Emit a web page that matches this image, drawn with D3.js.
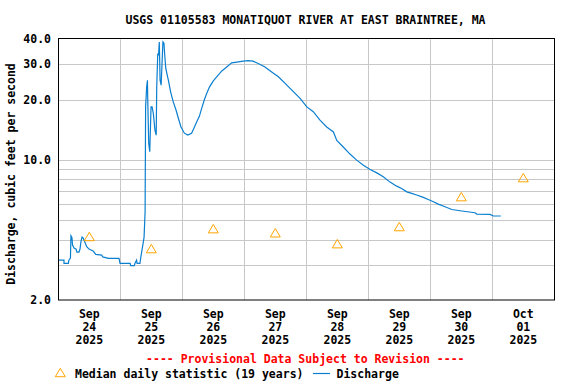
<!DOCTYPE html>
<html><head><meta charset="utf-8">
<script src="https://cdn.jsdelivr.net/npm/d3@7"></script>
<style>body{margin:0;background:#fff}svg{display:block}text{font-family:"DejaVu Sans Mono",monospace;font-weight:bold;font-size:11.5px}</style>
</head><body><svg id="c" width="576" height="384"></svg>
<script>
// Hours since 2025-09-24 00:00 and discharge (cfs)
const dischargeHours = [0,2.2,2.2,3.9,4.1,4.7,4.9,5.3,5.5,6.1,6.9,7.2,8.0,8.4,8.8,9.2,9.6,10.1,11.0,11.9,12.7,13.5,14.5,16.8,17.2,19.4,23.5,23.9,27.8,28.0,29.4,29.7,30.3,30.5,31.6,32.0,32.4,33.2,33.6,33.8,34.2,34.5,34.6,35.0,35.4,35.9,36.3,36.8,37.4,37.9,38.1,38.5,38.8,39.1,39.4,39.8,40.1,40.5,40.9,41.2,41.6,42.6,43.5,44.5,45.6,46.5,47.5,48.8,50.1,51.6,52.5,53.6,54.6,55.5,56.5,57.4,58.5,60.0,61.3,63.3,65.2,67.1,69.1,71.6,73.4,75.4,77.4,80.0,82.6,85.2,87.8,90.4,93.6,96.2,98.7,101.3,103.9,106.5,107.8,110.3,112.9,115.5,118.1,120.7,123.3,125.8,128.4,131.0,132.9,134.9,136.8,138.7,141.3,143.2,145.2,147.1,149.7,152.3,156.2,161.3,162.0,167.1,168.4,171.3];
const dischargeValues = [3.16,3.16,3.05,3.05,3.16,3.24,4.18,4.09,3.76,3.63,3.59,3.47,3.47,3.59,3.94,4.12,4.08,3.94,3.69,3.59,3.55,3.51,3.38,3.35,3.28,3.23,3.23,3.05,3.05,2.97,2.97,3.05,3.16,3.05,3.05,3.31,3.55,4.11,5.51,18.4,23.1,25.0,20.6,12.1,11.0,18.4,18.4,17.0,14.1,13.3,23.1,34.0,33.3,38.8,25.0,23.6,29.1,38.8,38.2,33.3,28.6,25.0,21.8,19.5,17.7,16.1,14.6,13.6,13.3,13.6,14.4,15.5,16.5,18.1,19.9,21.4,23.1,24.8,26.0,27.8,29.1,30.5,30.8,31.1,31.3,31.1,30.3,29.1,27.5,26.0,24.1,22.3,20.3,18.4,17.4,15.8,14.6,13.8,12.5,11.6,10.7,9.98,9.42,8.96,8.62,8.24,7.75,7.40,7.21,6.93,6.81,6.68,6.50,6.35,6.18,6.02,5.84,5.66,5.56,5.45,5.37,5.35,5.25,5.25];
// Median daily statistic (19 years), one per day at noon
const medianDays = ["2025-09-24","2025-09-25","2025-09-26","2025-09-27","2025-09-28","2025-09-29","2025-09-30","2025-10-01"];
const medianValues = [4.15,3.61,4.54,4.33,3.82,4.65,6.56,8.16];
const yTickValues = [2,10,20,30,40];
const yGridValues = [3,4,5,6,7,8,9,10,20,30];
const xLabelMonth = ["Sep","Sep","Sep","Sep","Sep","Sep","Sep","Oct"];
const xLabelDay = ["24","25","26","27","28","29","30","01"];
const xLabelYear = ["2025","2025","2025","2025","2025","2025","2025","2025"];
const titleText = "USGS 01105583 MONATIQUOT RIVER AT EAST BRAINTREE, MA";

const svg = d3.select("#c");
const L = 58.3, R = 554.3, T = 39.3, B = 300;
const t0 = new Date(2025, 8, 24, 0, 0);
const toDate = h => new Date(t0.getTime() + h * 3600e3);
const x = d3.scaleTime().domain([t0, new Date(2025, 9, 2, 0, 0)]).range([L, R]);
const y = d3.scaleLog().domain([2, 40]).range([B, T]);

// grid
const g = svg.append("g");
g.selectAll("line.h").data(yGridValues).join("line")
  .attr("x1", L).attr("x2", R)
  .attr("y1", d => Math.round(y(d)) + 0.5).attr("y2", d => Math.round(y(d)) + 0.5)
  .attr("stroke", "#c8c8c8").attr("stroke-width", 1);
const dayBounds = d3.range(1, 8).map(i => new Date(2025, 8, 24 + i));
g.selectAll("line.v").data(dayBounds).join("line")
  .attr("x1", d => Math.round(x(d)) + 0.5).attr("x2", d => Math.round(x(d)) + 0.5)
  .attr("y1", T).attr("y2", B)
  .attr("stroke", "#c8c8c8").attr("stroke-width", 1);

// discharge line
const pts = dischargeHours.map((h, i) => [toDate(h), dischargeValues[i]]);
svg.append("path").datum(pts)
  .attr("d", d3.line().x(d => x(d[0])).y(d => y(d[1])))
  .attr("fill", "none").attr("stroke", "#0a7fd0").attr("stroke-width", 1.2);

// median triangles
const tri = "M0,-4.2L5,4.2L-5,4.2Z";
svg.selectAll("path.m").data(medianDays).join("path")
  .attr("d", tri)
  .attr("transform", (d, i) => {
    const p = d.split("-").map(Number);
    return `translate(${x(new Date(p[0], p[1] - 1, p[2], 12))},${y(medianValues[i])})`;
  })
  .attr("fill", "none").attr("stroke", "#ffa500").attr("stroke-width", 1);

// frame
svg.append("rect").attr("x", Math.round(L) + 0.5).attr("y", Math.round(T) - 0.5)
  .attr("width", Math.round(R) - Math.round(L)).attr("height", B - Math.round(T) + 0.5)
  .attr("fill", "none").attr("stroke", "#000").attr("stroke-width", 1);

// y axis labels
svg.selectAll("text.yt").data(yTickValues).join("text")
  .attr("x", 51).attr("y", d => y(d) + 4)
  .attr("text-anchor", "end").text(d => d.toFixed(1));
svg.append("text").attr("transform", "translate(15,174) rotate(-90)")
  .attr("text-anchor", "middle").text("Discharge, cubic feet per second");

// x axis labels
const xl = svg.selectAll("g.xl").data(medianDays).join("g")
  .attr("transform", d => {
    const p = d.split("-").map(Number);
    return `translate(${x(new Date(p[0], p[1] - 1, p[2], 12))},0)`;
  });
xl.append("text").attr("y", 318).attr("text-anchor", "middle").text((d, i) => xLabelMonth[i]);
xl.append("text").attr("y", 331).attr("text-anchor", "middle").text((d, i) => xLabelDay[i]);
xl.append("text").attr("y", 344).attr("text-anchor", "middle").text((d, i) => xLabelYear[i]);

// title
svg.append("text").attr("x", 305.5).attr("y", 24).attr("text-anchor", "middle").text(titleText);

// provisional
svg.append("text").attr("x", 305.3).attr("y", 363).attr("text-anchor", "middle")
  .attr("fill", "#ff0000").text("---- Provisional Data Subject to Revision ----");

// legend
svg.append("path").attr("d", tri).attr("transform", "translate(60.3,372.5)")
  .attr("fill", "none").attr("stroke", "#ffa500").attr("stroke-width", 1);
svg.append("text").attr("x", 75).attr("y", 378).text("Median daily statistic (19 years)");
svg.append("line").attr("x1", 313).attr("x2", 330).attr("y1", 373.5).attr("y2", 373.5)
  .attr("stroke", "#0a7fd0").attr("stroke-width", 1.2);
svg.append("text").attr("x", 336.5).attr("y", 378).text("Discharge");
</script></body></html>
